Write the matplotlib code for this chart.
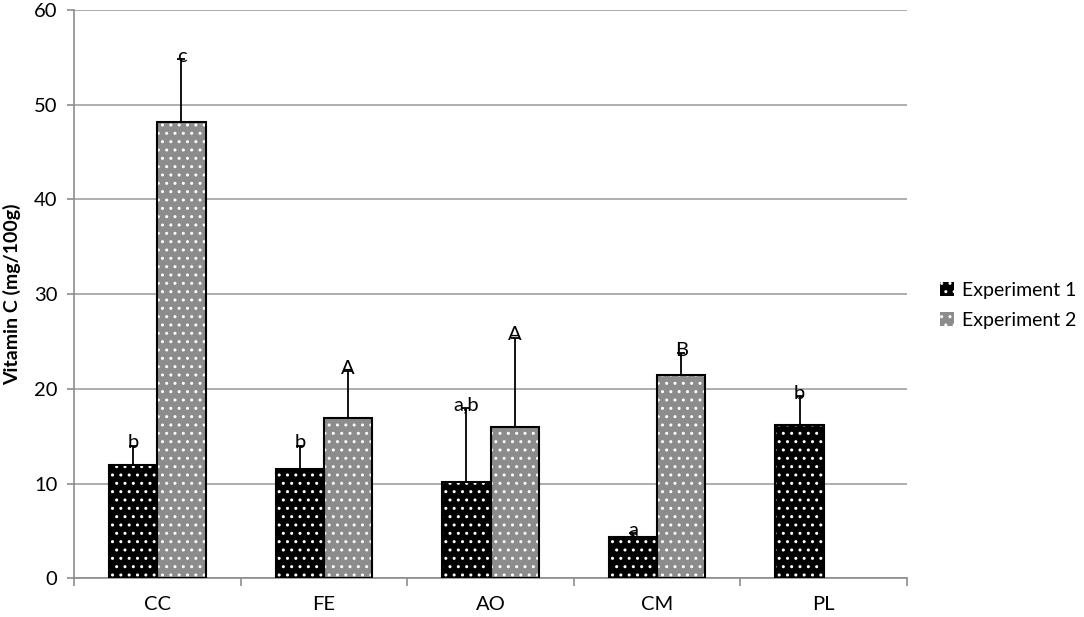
# Vitamin C content by treatment, two experiments

import numpy as np
import matplotlib.pyplot as plt

categories = ['CC', 'FE', 'AO', 'CM', 'PL']
exp1_values = [12.0, 11.5, 10.2, 4.4, 16.2]
exp1_errors = [2.0, 2.5, 7.8, 0.4, 3.0]
exp1_labels = ['b', 'b', 'a,b', 'a', 'b']
exp2_values = [48.2, 16.9, 16.0, 21.5, np.nan]
exp2_errors = [6.6, 5.0, 9.4, 2.3, np.nan]
exp2_labels = ['c', 'A', 'A', 'B', '']

plt.rcParams['font.family'] = ['Lato', 'DejaVu Sans']
plt.rcParams['hatch.linewidth'] = 1.0


def draw_bars(ax, x, values, errors, labels, face, name):
    # filled bars with white dot hatch, then black outline on top
    ax.bar(x, values, width=0.29, color=face, edgecolor='white', hatch='..',
           linewidth=0, zorder=2, label=name)
    ax.bar(x, values, width=0.29, fill=False, edgecolor='black',
           linewidth=1.5, zorder=3)
    ax.errorbar(x, values, yerr=[np.zeros(len(values)), errors], fmt='none',
                ecolor='black', elinewidth=1.3, capsize=3, capthick=1.3,
                zorder=4)
    for xi, v, e, lab in zip(x, values, errors, labels):
        if lab and not np.isnan(v):
            ax.text(xi, v + e + 0.3, lab, ha='center', va='center',
                    fontsize=14.5, zorder=5)


fig = plt.figure(figsize=(10.84, 6.17), dpi=100)
ax = fig.add_axes([0.0683, 0.0627, 0.7684, 0.9211])

x = np.arange(len(categories))
draw_bars(ax, x - 0.145, exp1_values, exp1_errors, exp1_labels,
          'black', 'Experiment 1')
draw_bars(ax, x + 0.145, exp2_values, exp2_errors, exp2_labels,
          '#8c8c8c', 'Experiment 2')

ax.set_xlim(-0.5, len(categories) - 0.5)
ax.set_ylim(0, 60)
ax.set_yticks(range(0, 61, 10))
ax.set_xticks(x)
ax.set_xticklabels(categories)
ax.set_xticks(np.arange(-0.5, len(categories)), minor=True)

ax.grid(axis='y', color='#a0a0a0', linewidth=1.2, zorder=0)
ax.set_axisbelow(True)
for side in ['top', 'right']:
    ax.spines[side].set_visible(False)
for side in ['left', 'bottom']:
    ax.spines[side].set_color('#8c8c8c')
    ax.spines[side].set_linewidth(1.2)

ax.tick_params(axis='y', length=5, width=1.2, color='#8c8c8c', pad=7,
               labelsize=14.5)
ax.tick_params(axis='x', which='major', length=0, pad=13, labelsize=14.5)
ax.tick_params(axis='x', which='minor', length=6, width=1.2,
               color='#8c8c8c')

ax.set_ylabel('Vitamin C (mg/100g)', fontsize=14, fontweight='bold')
ax.yaxis.set_label_coords(-0.063, 0.5)

fig.legend(loc='center left', bbox_to_anchor=(0.851, 0.505), frameon=False,
           fontsize=14, handlelength=0.7, handleheight=0.7,
           handletextpad=0.45, labelspacing=0.65)

fig.savefig('out.png', dpi=100)
